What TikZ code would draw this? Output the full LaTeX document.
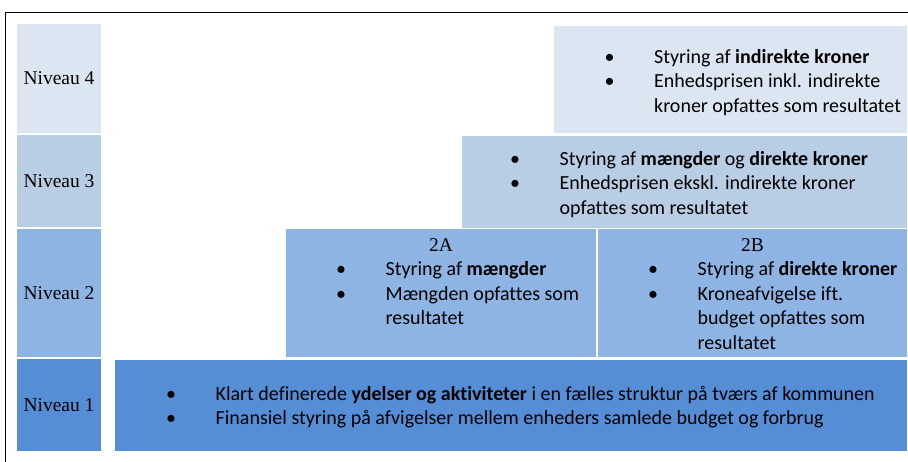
\documentclass[tikz,border=0pt]{standalone}
\usepackage{fontspec}
\setmainfont{Carlito}[Ligatures={NoCommon}]
\newfontfamily\tnr{Liberation Serif}
\usepackage{array}
\definecolor{lvlfour}{HTML}{DCE6F2}
\definecolor{lvlthree}{HTML}{B9CDE5}
\definecolor{lvltwo}{HTML}{8EB4E3}
\definecolor{lvlone}{HTML}{558ED5}
\newcommand{\blt}{\makebox[0pt]{\textbullet}}
\newenvironment{blist}{\begin{tabular}[t]{@{}p{44.5pt}@{}l@{}}}{\end{tabular}}

\begin{document}
\begin{tikzpicture}[x=1pt,y=-1pt,
  box/.style={inner sep=0pt,outer sep=0pt,anchor=north west,font=\tnr\fontsize{19.5}{22}\selectfont},
  txt/.style={inner sep=0pt,anchor=base west,font=\fontsize{20}{24.5}\selectfont},
  ttl/.style={inner sep=0pt,anchor=base,font=\tnr\fontsize{19.5}{22}\selectfont}]
\useasboundingbox (0,0) rectangle (908,462);
\draw[double,line width=0.6pt,double distance=0.6pt] (6,480) -- (6,13) -- (930,13);
\node[box,fill=lvlfour,minimum width=84pt,minimum height=109pt] (niv4) at (17,24) {Niveau 4};
\node[box,fill=lvlthree,minimum width=84pt,minimum height=92pt] (niv3) at (17,135) {Niveau 3};
\node[box,fill=lvltwo,minimum width=84pt,minimum height=128pt] (niv2) at (17,229) {Niveau 2};
\node[box,fill=lvlone,minimum width=84pt,minimum height=92pt] (niv1) at (17,359) {Niveau 1};
\node[box,fill=lvlfour,minimum width=353pt,minimum height=107pt] (box4) at (554,26) {};
\node[box,fill=lvlthree,minimum width=445pt,minimum height=92pt] (box3) at (462,136) {};
\node[box,fill=lvltwo,minimum width=310pt,minimum height=128pt] (box2a) at (286,229) {};
\node[box,fill=lvltwo,minimum width=309pt,minimum height=128pt] (box2b) at (598,229) {};
\node[box,fill=lvlone,minimum width=792pt,minimum height=91pt] (box1) at (115,360) {};
\node[txt] (t4) at (609.5,63.5) {\begin{blist}
\blt & Styring af \textbf{indirekte kroner}\\
\blt & Enhedsprisen inkl. indirekte\\
& kroner opfattes som resultatet
\end{blist}};
\node[txt] (t3) at (515,165.5) {\begin{blist}
\blt & Styring af \textbf{mængder} og \textbf{direkte kroner}\\
\blt & Enhedsprisen ekskl. indirekte kroner\\
& opfattes som resultatet
\end{blist}};
\node[ttl] (ttl2a) at (441,251.7) {2A};
\node[txt] (t2a) at (341,276) {\begin{blist}
\blt & Styring af \textbf{mængder}\\
\blt & Mængden opfattes som\\
& resultatet
\end{blist}};
\node[ttl] (ttl2b) at (752.5,251.7) {2B};
\node[txt] (t2b) at (653,276) {\begin{blist}
\blt & Styring af \textbf{direkte kroner}\\
\blt & Kroneafvigelse ift.\\
& budget opfattes som\\
& resultatet
\end{blist}};
\node[txt] (t1) at (171,400) {\begin{blist}
\blt & Klart definerede \textbf{ydelser og aktiviteter} i en fælles struktur på tværs af kommunen\\
\blt & Finansiel styring på afvigelser mellem enheders samlede budget og forbrug
\end{blist}};
\end{tikzpicture}
\end{document}
